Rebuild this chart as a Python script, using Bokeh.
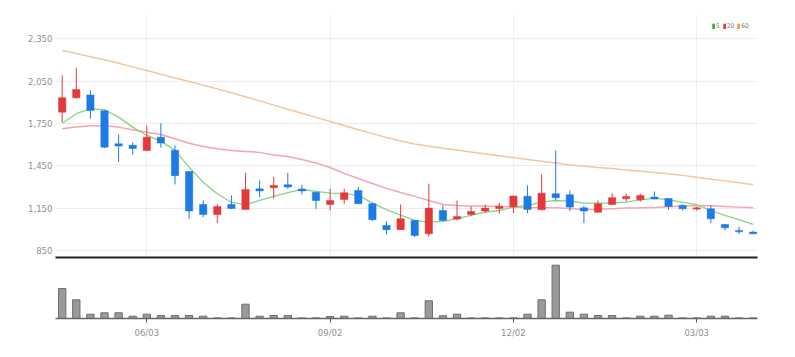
import numpy as np
from bokeh.plotting import figure
from bokeh.models import ColumnDataSource, FixedTicker, NumeralTickFormatter, Range1d, Legend, LegendItem
from bokeh.layouts import column
from bokeh.embed import file_html
from bokeh.resources import INLINE

# ---- data (weekly candles) ----
opens = [1830,1932,1952,1840,1606,1595,1559,1653,1560,1410,1175,1105,1176,1141,1287,1294,1316,1285,1263,1176,
         1211,1275,1181,1027,997,1063,968,1133,1072,1105,1129,1148,1159,1234,1139,1252,1245,1152,1121,1176,
         1216,1209,1228,1218,1169,1143,1145,1034,992,980]
closes = [1932,1990,1842,1582,1590,1572,1653,1611,1380,1130,1105,1162,1147,1282,1272,1311,1300,1272,1204,1204,
          1259,1181,1068,997,1075,956,1150,1063,1091,1126,1150,1164,1235,1141,1256,1224,1157,1129,1181,1224,
          1233,1240,1214,1162,1145,1152,1075,1010,982,968]
highs = [2090,2145,1985,1845,1672,1615,1736,1752,1595,1412,1205,1180,1240,1400,1346,1370,1400,1316,1265,1287,
         1287,1299,1190,1058,1176,1068,1323,1169,1204,1162,1174,1186,1240,1311,1389,1559,1275,1166,1204,1256,
         1252,1252,1268,1220,1176,1160,1166,1037,1020,990]
lows = [1760,1925,1783,1575,1476,1530,1555,1578,1318,1075,1085,1045,1143,1138,1228,1216,1287,1247,1145,1133,
        1181,1178,1060,963,995,944,949,1058,1063,1091,1117,1110,1115,1115,1136,1204,1129,1043,1118,1169,
        1199,1195,1211,1139,1133,1133,1043,992,968,965]
volumes = [600000,374000,86000,114000,114000,46000,86000,60000,60000,60000,46000,12000,12000,286000,46000,60000,
           60000,12000,12000,40000,46000,12000,46000,12000,114000,12000,354000,54000,86000,12000,12000,12000,12000,
           86000,374000,1066000,126000,86000,60000,60000,12000,46000,46000,66000,12000,12000,46000,46000,12000,12000]
ma5 = [1752,1819,1854,1847,1795,1724,1665,1625,1559,1440,1334,1252,1190,1175,1204,1233,1259,1282,1268,1256,
       1252,1240,1185,1139,1100,1063,1051,1056,1075,1098,1121,1133,1157,1169,1192,1204,1199,1185,1185,1185,
       1192,1209,1221,1209,1192,1174,1133,1098,1068,1034]
ma20 = [1713,1724,1734,1734,1724,1705,1688,1672,1642,1610,1587,1571,1559,1552,1545,1527,1516,1495,1470,1438,
        1396,1360,1325,1290,1261,1233,1204,1176,1169,1165,1165,1162,1158,1155,1152,1152,1148,1140,1142,1146,
        1150,1152,1155,1160,1165,1168,1167,1162,1157,1152]
ma60 = [2267,2245,2223,2201,2177,2151,2125,2099,2072,2047,2021,1995,1968,1939,1910,1880,1851,1822,1793,1764,
        1735,1706,1678,1650,1625,1605,1589,1574,1561,1547,1534,1521,1508,1495,1482,1469,1456,1447,1438,1430,
        1420,1411,1403,1394,1382,1368,1355,1343,1329,1316]
tick_idx = [6, 19, 32, 45]
tick_labels = ["06/03", "09/02", "12/02", "03/03"]
price_ticks = [850, 1150, 1450, 1750, 2050, 2350]
ma_names = ["5", "20", "60"]
ma_key_colors = ["#2fb52f", "#ea3a3a", "#f79a45"]

RED = "#e5383b"
BLUE = "#1d7be5"
FONT = "Liberation Sans Narrow, DejaVu Sans Condensed, sans-serif"
LABEL_COLOR = "#8f8f8f"

n = len(opens)
idx = list(range(n))
colors = [RED if c >= o else BLUE for o, c in zip(opens, closes)]
src = ColumnDataSource(dict(
    x=idx, open=opens, close=closes, high=highs, low=lows,
    top=[max(o, c) for o, c in zip(opens, closes)],
    bottom=[min(o, c) for o, c in zip(opens, closes)],
    color=colors, vol=volumes, ma5=ma5, ma20=ma20, ma60=ma60,
))

xr = Range1d(-0.475, 49.31)

p1 = figure(width=778, height=261, x_range=xr, y_range=Range1d(800, 2515),
            output_backend="svg", toolbar_location=None,
            min_border_left=55, min_border_right=21, min_border_top=15, min_border_bottom=4)
p1.outline_line_color = None

p1.line("x", "ma60", source=src, color="#f8c59a", line_width=1.5)
p1.line("x", "ma20", source=src, color="#f5a5ab", line_width=1.5)
p1.line("x", "ma5", source=src, color="#86d486", line_width=1.3)
p1.segment("x", "high", "x", "low", source=src, color="color", line_width=1)
p1.vbar(x="x", top="top", bottom="bottom", width=0.52, source=src,
        fill_color="color", line_color="color", line_width=0.5)

# legend swatches (not drawn in the plot: NaN placeholders)
items = []
for name, col in zip(ma_names, ma_key_colors):
    nan = np.array([np.nan])
    r = p1.quad(source=ColumnDataSource(dict(left=nan, right=nan, top=nan, bottom=nan)),
                fill_color=col, line_color=col)
    items.append(LegendItem(label=name, renderers=[r]))
legend = Legend(items=items, orientation="horizontal", location=(657, 227),
                glyph_width=3, glyph_height=6, label_standoff=1, spacing=3,
                label_text_font_size="6.5px", label_text_font=FONT, label_text_color="#777777",
                label_height=7, label_width=3, padding=0, margin=0,
                border_line_color=None, background_fill_alpha=0)
p1.add_layout(legend)

p1.yaxis.ticker = FixedTicker(ticks=price_ticks)
p1.yaxis.formatter = NumeralTickFormatter(format="0,0")
p1.yaxis.axis_line_color = None
p1.yaxis.major_tick_line_color = None
p1.yaxis.minor_tick_line_color = None
p1.yaxis.major_tick_out = 0
p1.yaxis.major_tick_in = 0
p1.yaxis.major_label_standoff = 3
p1.yaxis.major_label_text_font_size = "9.5px"
p1.yaxis.major_label_text_font = FONT
p1.yaxis.major_label_text_color = LABEL_COLOR

p1.xaxis.ticker = FixedTicker(ticks=[])
p1.xaxis.axis_line_color = "#222222"
p1.xaxis.axis_line_width = 2
p1.xaxis.major_tick_line_color = None
p1.xaxis.minor_tick_line_color = None
p1.xaxis.major_label_standoff = 0
p1.xaxis.major_tick_out = 0
p1.xaxis.major_tick_in = 0

p1.ygrid.ticker = FixedTicker(ticks=price_ticks)
p1.ygrid.grid_line_color = "#ececec"
p1.xgrid.ticker = FixedTicker(ticks=tick_idx)
p1.xgrid.grid_line_color = "#efefef"

vmax = max(volumes)
p2 = figure(width=778, height=79, x_range=xr, y_range=Range1d(0, vmax * 57 / 53.3),
            output_backend="svg", toolbar_location=None,
            min_border_left=55, min_border_right=21, min_border_top=0, min_border_bottom=10)
p2.outline_line_color = None
p2.vbar(x="x", top="vol", bottom=0, width=0.52, source=src,
        fill_color="#9a9a9a", line_color="#6e6e6e", line_width=1)
p2.yaxis.visible = False
p2.grid.visible = False
p2.xaxis.ticker = FixedTicker(ticks=tick_idx)
p2.xaxis.major_label_overrides = {i: l for i, l in zip(tick_idx, tick_labels)}
p2.xaxis.axis_line_color = "#666666"
p2.xaxis.axis_line_width = 1.5
p2.xaxis.major_tick_line_color = "#555555"
p2.xaxis.major_tick_out = 4
p2.xaxis.major_tick_in = 0
p2.xaxis.minor_tick_line_color = None
p2.xaxis.major_label_standoff = 4
p2.xaxis.major_label_text_font_size = "9.5px"
p2.xaxis.major_label_text_font = FONT
p2.xaxis.major_label_text_color = LABEL_COLOR

layout = column(p1, p2, spacing=0)
open("out.html", "w").write(file_html(layout, INLINE))
